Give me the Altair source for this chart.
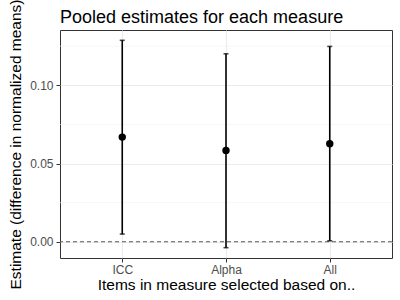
import altair as alt
import pandas as pd

categories = ["ICC", "Alpha", "All"]
estimates = [0.0669, 0.0584, 0.0627]
lower = [0.0049, -0.0038, 0.0006]
upper = [0.1288, 0.1202, 0.1249]
minor_grid = [0.025, 0.075, 0.125]
ref_line = [0.0]

df = pd.DataFrame({"measure": categories, "est": estimates, "lo": lower, "hi": upper})
minor_df = pd.DataFrame({"v": minor_grid})
ref_df = pd.DataFrame({"v": ref_line})

yscale = alt.Scale(domain=[-0.0104, 0.1354], nice=False, zero=False)
xscale = alt.Scale(type="point", padding=0.6, domain=categories)

x_enc = alt.X("measure:N", scale=xscale, sort=categories,
              title="Items in measure selected based on..",
              axis=alt.Axis(labelAngle=0, grid=True, gridColor="#EBEBEB", gridWidth=1.1,
                            tickColor="#333333", tickSize=4, labelColor="#4D4D4D",
                            labelFontSize=12, labelPadding=2, titleFontSize=15.5,
                            titleFontWeight="normal", titleColor="#000000", titlePadding=2,
                            domain=False))

minor = alt.Chart(minor_df).mark_rule(color="#F2F2F2", strokeWidth=0.6).encode(
    y=alt.Y("v:Q", scale=yscale))

bars = alt.Chart(df).mark_rule(color="black", strokeWidth=1.6).encode(
    x=x_enc,
    y=alt.Y("lo:Q", scale=yscale, title="Estimate (difference in normalized means)",
            axis=alt.Axis(values=[0, 0.05, 0.1], format=".2f", grid=True, gridColor="#EBEBEB",
                          gridWidth=1.1, tickColor="#333333", tickSize=4, labelColor="#4D4D4D",
                          labelFontSize=12, labelPadding=3, titleFontSize=15.5,
                          titleFontWeight="normal", titleColor="#000000", titlePadding=6,
                          domain=False)),
    y2="hi:Q")

cap_lo = alt.Chart(df).mark_tick(color="black", orient="horizontal", size=5, thickness=1.6).encode(
    x=alt.X("measure:N", scale=xscale, sort=categories), y=alt.Y("lo:Q", scale=yscale))
cap_hi = alt.Chart(df).mark_tick(color="black", orient="horizontal", size=5, thickness=1.6).encode(
    x=alt.X("measure:N", scale=xscale, sort=categories), y=alt.Y("hi:Q", scale=yscale))

pts = alt.Chart(df).mark_point(filled=True, color="black", size=55, opacity=1).encode(
    x=alt.X("measure:N", scale=xscale, sort=categories), y=alt.Y("est:Q", scale=yscale))

ref = alt.Chart(ref_df).mark_rule(color="#5A5A5A", strokeWidth=1.1, strokeDash=[4, 3]).encode(
    y=alt.Y("v:Q", scale=yscale))

chart = alt.layer(minor, bars, ref, cap_lo, cap_hi, pts).properties(
    width=332, height=228,
    autosize=alt.AutoSizeParams(type="none"),
    padding={"left": 60, "top": 30, "right": 8, "bottom": 42},
    title=alt.TitleParams("Pooled estimates for each measure", anchor="start", frame="group",
                          fontSize=18, fontWeight="normal", color="#000000", offset=-12, dy=16),
).configure(font="Liberation Sans").configure_view(stroke="#333333", strokeWidth=1)

chart.save("out.html", embed_options={"renderer": "svg", "actions": False})
